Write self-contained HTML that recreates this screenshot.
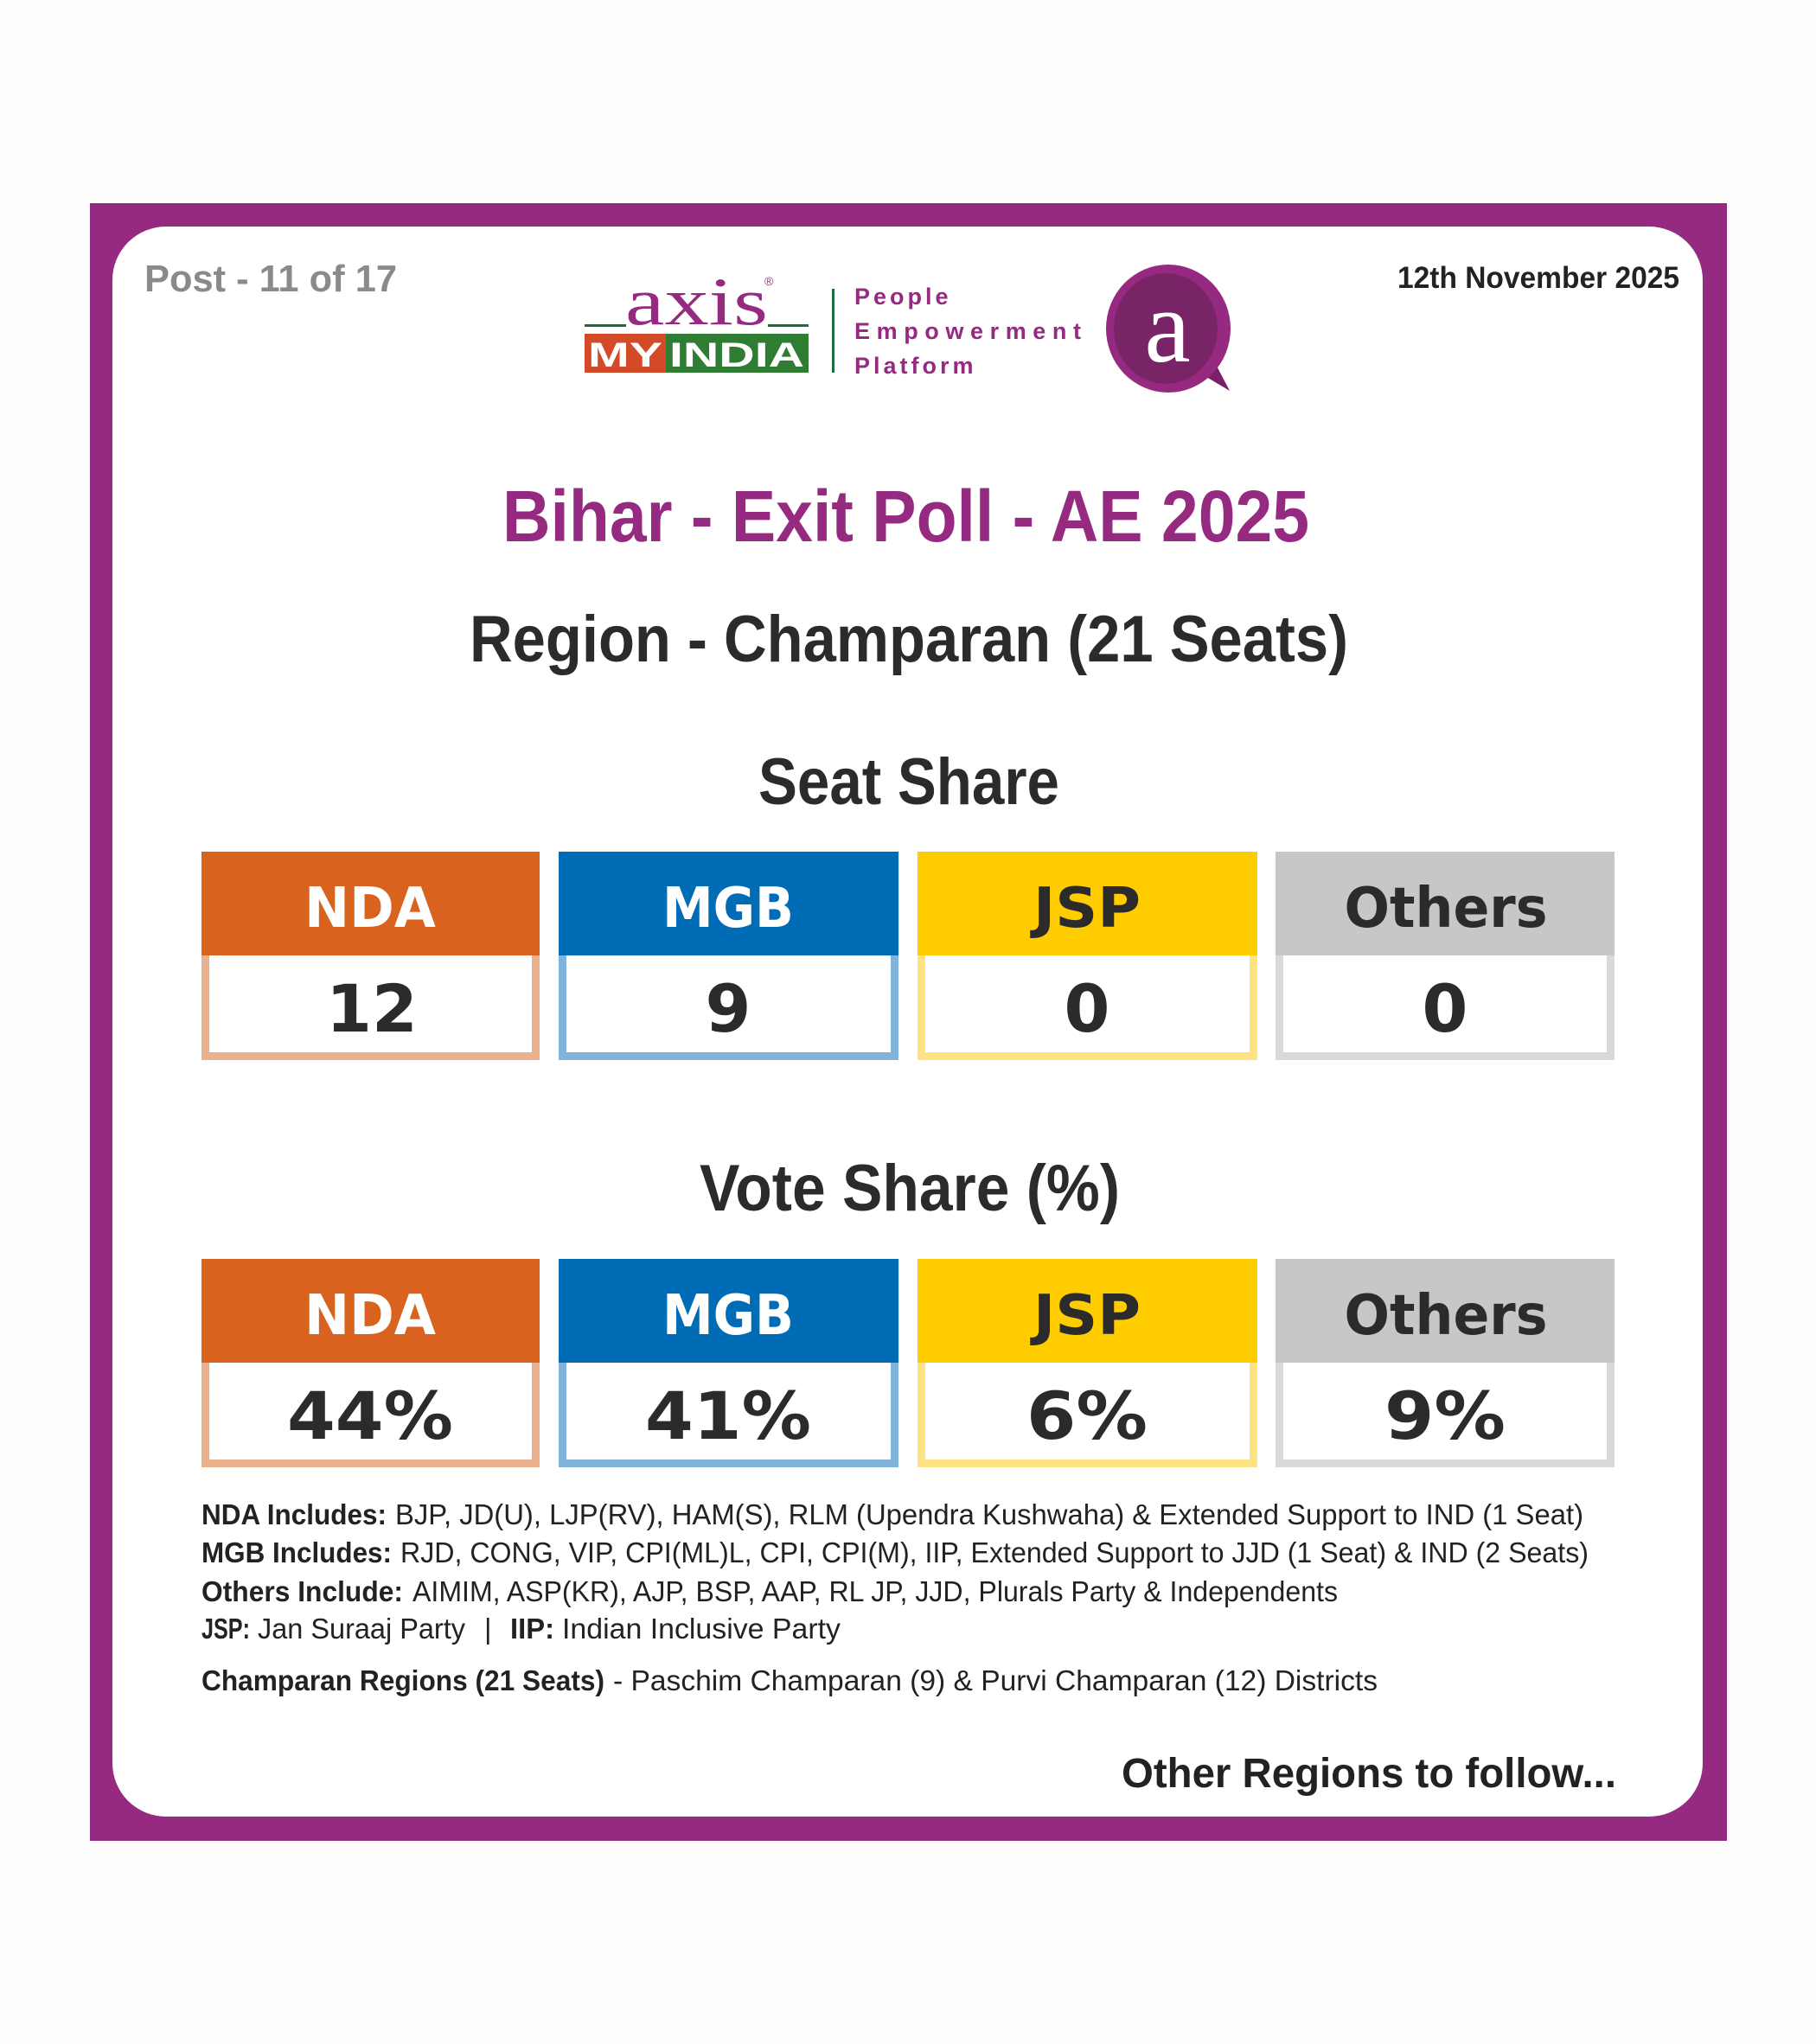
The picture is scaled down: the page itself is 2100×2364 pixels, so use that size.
<!DOCTYPE html>
<html><head><meta charset="utf-8"><style>
html,body{margin:0;padding:0;background:#fefefe;}
svg{display:block;}
text{font-family:"Liberation Sans",sans-serif;}
.d{font-family:"DejaVu Sans",sans-serif;font-weight:bold;}
</style></head><body>
<svg width="2100" height="2364" viewBox="0 0 2100 2364" xmlns="http://www.w3.org/2000/svg">
<rect x="0" y="0" width="2100" height="2364" fill="#fefefe"/>
<rect x="104" y="235" width="1893" height="1894" fill="#952A80"/>
<rect x="130" y="262" width="1839" height="1839" rx="62" ry="62" fill="#ffffff"/>

<!-- header -->
<text x="167" y="337" font-size="44" font-weight="bold" fill="#8a8a8a" textLength="292" lengthAdjust="spacingAndGlyphs">Post - 11 of 17</text>
<text x="1616" y="333" font-size="35" font-weight="bold" fill="#222" textLength="326" lengthAdjust="spacingAndGlyphs">12th November 2025</text>

<!-- logo -->
<text x="723" y="375" font-size="78" font-family="Liberation Serif" fill="#952A80" textLength="165" lengthAdjust="spacingAndGlyphs" style="font-family:'Liberation Serif',serif">axis</text>
<text x="884" y="330" font-size="14" fill="#952A80">®</text>
<rect x="676" y="375" width="48" height="3" fill="#1f6b3a"/>
<rect x="888" y="375" width="47" height="3" fill="#1f6b3a"/>
<rect x="676" y="386" width="94" height="45" fill="#D24A28"/>
<rect x="770" y="386" width="165" height="45" fill="#2f7d32"/>
<text x="680" y="424" font-size="40" font-weight="bold" fill="#fff" textLength="86" lengthAdjust="spacingAndGlyphs">MY</text>
<text x="774" y="424" font-size="40" font-weight="bold" fill="#fff" textLength="156" lengthAdjust="spacingAndGlyphs">INDIA</text>
<rect x="962" y="334" width="3" height="97" fill="#1f6b3a"/>
<text x="988" y="352" font-size="27" font-weight="bold" fill="#952A80" letter-spacing="4">People</text>
<text x="988" y="392" font-size="27" font-weight="bold" fill="#952A80" textLength="262" lengthAdjust="spacing">Empowerment</text>
<text x="988" y="432" font-size="27" font-weight="bold" fill="#952A80" letter-spacing="4">Platform</text>
<path d="M1385 430 L1422 452 L1400 410 Z" fill="#7a2068"/>
<ellipse cx="1351" cy="380" rx="72" ry="74" fill="#952A80"/>
<ellipse cx="1348" cy="380" rx="60" ry="64" fill="#7a2468"/>
<text x="1350" y="418" font-size="120" text-anchor="middle" fill="#fff" style="font-family:'Liberation Serif',serif">a</text>

<!-- titles -->
<text x="581" y="626" font-size="84" font-weight="bold" fill="#952A80" textLength="933" lengthAdjust="spacingAndGlyphs">Bihar - Exit Poll - AE 2025</text>
<text x="543" y="765" font-size="76" font-weight="bold" fill="#2b2b2b" textLength="1016" lengthAdjust="spacingAndGlyphs">Region - Champaran (21 Seats)</text>
<text x="877" y="930" font-size="76" font-weight="bold" fill="#2b2b2b" textLength="348" lengthAdjust="spacingAndGlyphs">Seat Share</text>
<text x="809" y="1400" font-size="76" font-weight="bold" fill="#2b2b2b" textLength="486" lengthAdjust="spacingAndGlyphs">Vote Share (%)</text>

<!-- seat boxes -->
<g>
<rect x="233" y="985" width="391" height="241" fill="#EBB08E"/><rect x="242" y="1105" width="373" height="112" fill="#fff"/><rect x="233" y="985" width="391" height="120" fill="#D9621E"/>
<rect x="646" y="985" width="393" height="241" fill="#80B4DA"/><rect x="655" y="1105" width="375" height="112" fill="#fff"/><rect x="646" y="985" width="393" height="120" fill="#006CB5"/>
<rect x="1061" y="985" width="393" height="241" fill="#FDE381"/><rect x="1070" y="1105" width="375" height="112" fill="#fff"/><rect x="1061" y="985" width="393" height="120" fill="#FFCC00"/>
<rect x="1475" y="985" width="392" height="241" fill="#D9D9D9"/><rect x="1484" y="1105" width="374" height="112" fill="#fff"/><rect x="1475" y="985" width="392" height="120" fill="#C6C7C6"/>
<text class="d" x="428" y="1072" font-size="64" text-anchor="middle" fill="#fff" textLength="152" lengthAdjust="spacingAndGlyphs">NDA</text>
<text class="d" x="842" y="1072" font-size="64" text-anchor="middle" fill="#fff" textLength="152" lengthAdjust="spacingAndGlyphs">MGB</text>
<text class="d" x="1257" y="1072" font-size="64" text-anchor="middle" fill="#2b2b2b" textLength="124" lengthAdjust="spacingAndGlyphs">JSP</text>
<text class="d" x="1672" y="1072" font-size="64" text-anchor="middle" fill="#2b2b2b" textLength="235" lengthAdjust="spacingAndGlyphs">Others</text>
<text class="d" x="430" y="1193" font-size="76" text-anchor="middle" fill="#2b2b2b">12</text>
<text class="d" x="842" y="1193" font-size="76" text-anchor="middle" fill="#2b2b2b">9</text>
<text class="d" x="1257" y="1193" font-size="76" text-anchor="middle" fill="#2b2b2b">0</text>
<text class="d" x="1671" y="1193" font-size="76" text-anchor="middle" fill="#2b2b2b">0</text>
</g>

<!-- vote boxes -->
<g transform="translate(0,471)">
<rect x="233" y="985" width="391" height="241" fill="#EBB08E"/><rect x="242" y="1105" width="373" height="112" fill="#fff"/><rect x="233" y="985" width="391" height="120" fill="#D9621E"/>
<rect x="646" y="985" width="393" height="241" fill="#80B4DA"/><rect x="655" y="1105" width="375" height="112" fill="#fff"/><rect x="646" y="985" width="393" height="120" fill="#006CB5"/>
<rect x="1061" y="985" width="393" height="241" fill="#FDE381"/><rect x="1070" y="1105" width="375" height="112" fill="#fff"/><rect x="1061" y="985" width="393" height="120" fill="#FFCC00"/>
<rect x="1475" y="985" width="392" height="241" fill="#D9D9D9"/><rect x="1484" y="1105" width="374" height="112" fill="#fff"/><rect x="1475" y="985" width="392" height="120" fill="#C6C7C6"/>
<text class="d" x="428" y="1072" font-size="64" text-anchor="middle" fill="#fff" textLength="152" lengthAdjust="spacingAndGlyphs">NDA</text>
<text class="d" x="842" y="1072" font-size="64" text-anchor="middle" fill="#fff" textLength="152" lengthAdjust="spacingAndGlyphs">MGB</text>
<text class="d" x="1257" y="1072" font-size="64" text-anchor="middle" fill="#2b2b2b" textLength="124" lengthAdjust="spacingAndGlyphs">JSP</text>
<text class="d" x="1672" y="1072" font-size="64" text-anchor="middle" fill="#2b2b2b" textLength="235" lengthAdjust="spacingAndGlyphs">Others</text>
<text class="d" x="428" y="1193" font-size="76" text-anchor="middle" fill="#2b2b2b" textLength="192" lengthAdjust="spacingAndGlyphs">44%</text>
<text class="d" x="842" y="1193" font-size="76" text-anchor="middle" fill="#2b2b2b" textLength="192" lengthAdjust="spacingAndGlyphs">41%</text>
<text class="d" x="1257" y="1193" font-size="76" text-anchor="middle" fill="#2b2b2b" textLength="140" lengthAdjust="spacingAndGlyphs">6%</text>
<text class="d" x="1671" y="1193" font-size="76" text-anchor="middle" fill="#2b2b2b" textLength="140" lengthAdjust="spacingAndGlyphs">9%</text>
</g>

<!-- notes -->
<g font-size="33" fill="#222">
<text x="233" y="1763" font-weight="bold" textLength="214" lengthAdjust="spacingAndGlyphs">NDA Includes:</text>
<text x="457" y="1763" textLength="1374" lengthAdjust="spacingAndGlyphs">BJP, JD(U), LJP(RV), HAM(S), RLM (Upendra Kushwaha) &amp; Extended Support to IND (1 Seat)</text>
<text x="233" y="1807" font-weight="bold" textLength="220" lengthAdjust="spacingAndGlyphs">MGB Includes:</text>
<text x="463" y="1807" textLength="1374" lengthAdjust="spacingAndGlyphs">RJD, CONG, VIP, CPI(ML)L, CPI, CPI(M), IIP, Extended Support to JJD (1 Seat) &amp; IND (2 Seats)</text>
<text x="233" y="1852" font-weight="bold" textLength="233" lengthAdjust="spacingAndGlyphs">Others Include:</text>
<text x="477" y="1852" textLength="1070" lengthAdjust="spacingAndGlyphs">AIMIM, ASP(KR), AJP, BSP, AAP, RL JP, JJD, Plurals Party &amp; Independents</text>
<text x="233" y="1895" font-weight="bold" textLength="56" lengthAdjust="spacingAndGlyphs">JSP:</text>
<text x="298" y="1895" textLength="240" lengthAdjust="spacingAndGlyphs">Jan Suraaj Party</text>
<text x="560" y="1895">|</text>
<text x="590" y="1895" font-weight="bold" textLength="51" lengthAdjust="spacingAndGlyphs">IIP:</text>
<text x="650" y="1895" textLength="322" lengthAdjust="spacingAndGlyphs">Indian Inclusive Party</text>
<text x="233" y="1955" font-weight="bold" textLength="466" lengthAdjust="spacingAndGlyphs">Champaran Regions (21 Seats)</text>
<text x="709" y="1955" textLength="884" lengthAdjust="spacingAndGlyphs">- Paschim Champaran (9) &amp; Purvi Champaran (12) Districts</text>
</g>
<text x="1297" y="2067" font-size="48" font-weight="bold" fill="#222" textLength="572" lengthAdjust="spacingAndGlyphs">Other Regions to follow...</text>
</svg>
</body></html>
